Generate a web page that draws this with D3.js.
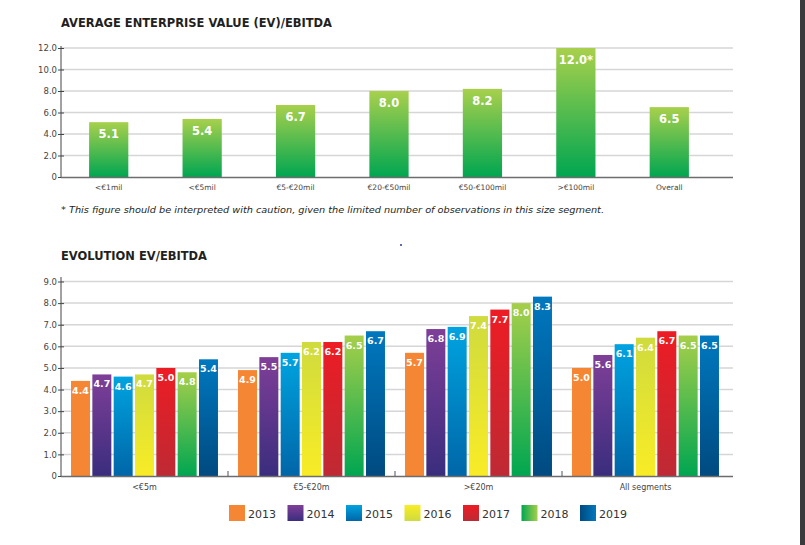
<!DOCTYPE html>
<html><head><meta charset="utf-8">
<script src="https://cdn.jsdelivr.net/npm/d3@7/dist/d3.min.js"></script>
<style>
body{margin:0;background:#fff;}
svg{display:block;font-family:"DejaVu Sans",sans-serif;}
</style></head>
<body><svg id="c" width="805" height="545"></svg>
<script>
// ---- data ----
const topCategories = ["<€1mil","<€5mil","€5-€20mil","€20-€50mil","€50-€100mil",">€100mil","Overall"];
const topValues = [5.1,5.4,6.7,8.0,8.2,12.0,6.5];
const topLabels = ["5.1","5.4","6.7","8.0","8.2","12.0*","6.5"];
const topTicks = [0,2,4,6,8,10,12];

const segments = ["<€5m","€5-€20m",">€20m","All segments"];
const years = ["2013","2014","2015","2016","2017","2018","2019"];
const ev2013 = [4.4,4.9,5.7,5.0];
const ev2014 = [4.7,5.5,6.8,5.6];
const ev2015 = [4.6,5.7,6.9,6.1];
const ev2016 = [4.7,6.2,7.4,6.4];
const ev2017 = [5.0,6.2,7.7,6.7];
const ev2018 = [4.8,6.5,8.0,6.5];
const ev2019 = [5.4,6.7,8.3,6.5];
const bottomTicks = [0,1,2,3,4,5,6,7,8,9];

const series = [ev2013,ev2014,ev2015,ev2016,ev2017,ev2018,ev2019];
const yearColors = [
  ["#f58634","#f58634"],["#7f3f98","#3a2d7d"],["#00a3e0","#0066a8"],
  ["#cfdb3e","#f9ec26"],["#ed1c24","#be2a34"],["#a6cf4a","#00a651"],["#0078bf","#004a80"]];

const svg = d3.select("#c");
const defs = svg.append("defs");
const txtDark = "#231f20";

function vgrad(id, c1, c2){
  const g = defs.append("linearGradient").attr("id",id).attr("x1",0).attr("y1",0).attr("x2",0).attr("y2",1);
  g.append("stop").attr("offset","0%").attr("stop-color",c1);
  g.append("stop").attr("offset","100%").attr("stop-color",c2);
}
vgrad("gTop","#a8d04c","#00a651");
yearColors.forEach((c,i)=>vgrad("gy"+i,c[0],c[1]));

// right dark strip
svg.append("rect").attr("x",800).attr("y",0).attr("width",5).attr("height",545).attr("fill","#3b3b3d");
svg.append("circle").attr("cx",401).attr("cy",245).attr("r",1).attr("fill","#2b3a8c");

// ---- top chart ----
const tx = d3.scaleBand().domain(topCategories).range([62,716]).paddingInner(0.58).paddingOuter(0.29);
const ty = d3.scaleLinear().domain([0,12]).range([177,48]);

svg.append("text").attr("x",61).attr("y",26.5).attr("font-size",12.5).attr("font-weight",800)
  .attr("fill",txtDark).attr("textLength",271).attr("lengthAdjust","spacingAndGlyphs")
  .text("AVERAGE ENTERPRISE VALUE (EV)/EBITDA");

const tg = svg.append("g");
tg.selectAll("line.grid").data(topTicks.filter(d=>d>0)).join("line")
  .attr("x1",61).attr("x2",733).attr("y1",d=>ty(d)).attr("y2",d=>ty(d))
  .attr("stroke","#d6d6d6").attr("stroke-width",1.5);

tg.selectAll("rect.bar").data(topValues).join("rect")
  .attr("x",(d,i)=>tx(topCategories[i])).attr("width",tx.bandwidth())
  .attr("y",d=>ty(d)).attr("height",d=>ty(0)-ty(d)).attr("fill","url(#gTop)");

tg.selectAll("text.val").data(topValues).join("text")
  .attr("x",(d,i)=>tx(topCategories[i])+tx.bandwidth()/2).attr("y",d=>ty(d)+16)
  .attr("text-anchor","middle").attr("font-size",11.5).attr("font-weight","bold").attr("fill","#fff")
  .text((d,i)=>topLabels[i]);

// y axis
const tyAxis = tg.append("g").attr("transform","translate(61,0)")
  .call(d3.axisLeft(ty).tickValues(topTicks).tickFormat(d=>d===0?"0":d3.format(".1f")(d)).tickSize(3).tickSizeOuter(0));
tyAxis.select(".domain").attr("stroke","#444").attr("d","M0,46V177");
tyAxis.selectAll(".tick line").attr("x1",-3).attr("x2",3).attr("stroke","#444");
tyAxis.selectAll(".tick text").attr("font-size",8.5).attr("fill","#444").attr("x",-4).attr("font-family","DejaVu Sans");
tg.append("line").attr("x1",61).attr("x2",733).attr("y1",177.5).attr("y2",177.5).attr("stroke","#6d6d6d").attr("stroke-width",1.5);

const txAxis = tg.append("g").attr("transform","translate(0,177)")
  .call(d3.axisBottom(tx).tickSize(0));
txAxis.select(".domain").remove();
txAxis.selectAll(".tick text").attr("font-size",7.5).attr("fill","#444").attr("dy","0.9em").attr("y",6).attr("font-family","DejaVu Sans");

svg.append("text").attr("x",61).attr("y",213).attr("font-size",8.5).attr("font-style","italic").attr("fill",txtDark)
  .attr("textLength",543).attr("lengthAdjust","spacingAndGlyphs")
  .text("* This figure should be interpreted with caution, given the limited number of observations in this size segment.");

// ---- bottom chart ----
svg.append("text").attr("x",61).attr("y",259.5).attr("font-size",12.5).attr("font-weight",800)
  .attr("fill",txtDark).attr("textLength",146).attr("lengthAdjust","spacingAndGlyphs")
  .text("EVOLUTION EV/EBITDA");

const bx = d3.scaleBand().domain(segments).range([61,729]);
const bxi = d3.scaleBand().domain(years).range([0,bx.bandwidth()]).paddingInner(0.11).paddingOuter(0.47);
const by = d3.scaleLinear().domain([0,9]).range([476,281.5]);

const bg = svg.append("g");
bg.selectAll("line.grid").data(bottomTicks.filter(d=>d>0)).join("line")
  .attr("x1",61).attr("x2",733).attr("y1",d=>by(d)).attr("y2",d=>by(d))
  .attr("stroke","#d6d6d6").attr("stroke-width",1.5);

const flat = [];
series.forEach((s,yi)=>s.forEach((v,si)=>flat.push({seg:segments[si],year:years[yi],yi,v})));

bg.selectAll("rect.bar").data(flat).join("rect")
  .attr("x",d=>bx(d.seg)+bxi(d.year)).attr("width",bxi.bandwidth())
  .attr("y",d=>by(d.v)).attr("height",d=>by(0)-by(d.v)).attr("fill",d=>"url(#gy"+d.yi+")");

bg.selectAll("text.val").data(flat).join("text")
  .attr("x",d=>bx(d.seg)+bxi(d.year)+bxi.bandwidth()/2).attr("y",d=>by(d.v)+13)
  .attr("text-anchor","middle").attr("font-size",9.5).attr("font-weight","bold").attr("fill","#fff")
  .text(d=>d3.format(".1f")(d.v));

const byAxis = bg.append("g").attr("transform","translate(61,0)")
  .call(d3.axisLeft(by).tickValues(bottomTicks).tickFormat(d=>d===0?"0":d3.format(".1f")(d)).tickSize(3).tickSizeOuter(0));
byAxis.select(".domain").attr("stroke","#444").attr("d","M0,277V476");
byAxis.selectAll(".tick line").attr("x1",-3).attr("x2",3).attr("stroke","#444");
byAxis.selectAll(".tick text").attr("font-size",8.5).attr("fill","#444").attr("x",-4).attr("font-family","DejaVu Sans");

bg.append("line").attr("x1",61).attr("x2",733).attr("y1",476.5).attr("y2",476.5).attr("stroke","#6d6d6d").attr("stroke-width",1.5);
bg.selectAll("line.sep").data(segments.slice(1)).join("line")
  .attr("x1",d=>bx(d)).attr("x2",d=>bx(d)).attr("y1",471).attr("y2",476).attr("stroke","#555").attr("stroke-width",1);

const bxAxis = bg.append("g").attr("transform","translate(0,476)").call(d3.axisBottom(bx).tickSize(0));
bxAxis.select(".domain").remove();
bxAxis.selectAll(".tick text").attr("font-size",8).attr("fill","#444").attr("dy","0.9em").attr("y",7).attr("font-family","DejaVu Sans");

// legend
const lx = d3.scalePoint().domain(years).range([229,580]);
const lg = svg.append("g");
years.forEach((y,i)=>{
  const g = defs.append("linearGradient").attr("id","lg"+i).attr("x1",0).attr("y1",0).attr("x2", i===5||i===6?1:0).attr("y2", i===5||i===6?0:1);
  const c = yearColors[i];
  const a = i===3 ? [c[1],c[0]] : (i===6 ? [c[1],c[0]] : [c[0],c[1]]);
  g.append("stop").attr("offset","0%").attr("stop-color", i===5? c[1] : a[0]);
  g.append("stop").attr("offset","100%").attr("stop-color", i===5? c[0] : a[1]);
});
lg.selectAll("rect").data(years).join("rect")
  .attr("x",d=>lx(d)).attr("y",505).attr("width",16).attr("height",16).attr("fill",(d,i)=>"url(#lg"+i+")");
lg.selectAll("text").data(years).join("text")
  .attr("x",d=>lx(d)+19).attr("y",518).attr("font-size",11).attr("fill","#333").text(d=>d);
</script></body></html>
